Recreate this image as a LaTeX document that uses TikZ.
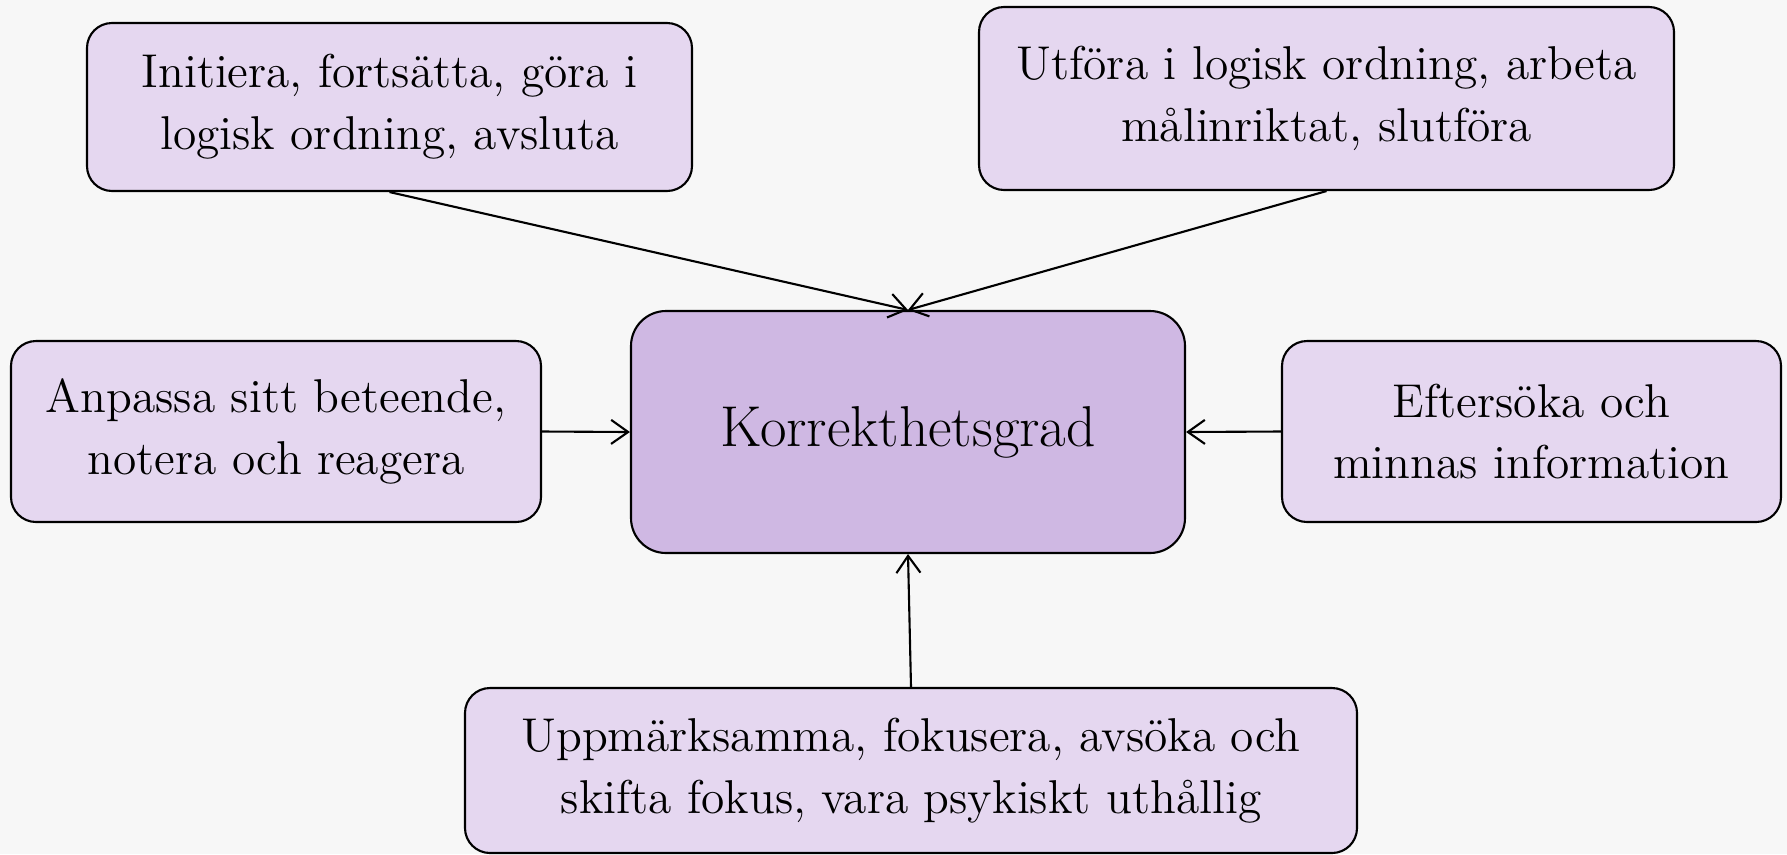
\documentclass[tikz,border=0pt]{standalone}
\usetikzlibrary{arrows.meta}
\definecolor{bgpaper}{HTML}{F7F7F7}
\definecolor{lilac}{HTML}{E5D7F0}
\definecolor{lilacdark}{HTML}{CFB8E3}
\begin{document}
\begin{tikzpicture}[
    facet/.style={draw=black, line width=0.6pt, fill=lilac, rounded corners=0.25cm,
      align=center, inner sep=0pt, font=\fontsize{13.5}{17.6}\selectfont},
    grade/.style={facet, fill=lilacdark, rounded corners=0.35cm, font=\fontsize{16.4}{20}\selectfont},
    feeds/.style={line width=0.6pt, -{Straight Barb[length=1.7mm,width=2.4mm]}}
  ]
   \fill[bgpaper] (0,0) rectangle (17.87,-8.54);
   \useasboundingbox (0,0) rectangle (17.87,-8.54);
   % centre
   \node[grade, minimum width=5.54cm, minimum height=2.42cm] (grad) at (9.08,-4.32) {Korrekthetsgrad};
   % the five around it
   \node[facet, minimum width=6.05cm, minimum height=1.68cm] (init) at (3.895,-1.07)
     {Initiera, fortsätta, göra i\\logisk ordning, avsluta};
   \node[facet, minimum width=6.95cm, minimum height=1.83cm] (utfora) at (13.265,-0.985)
     {Utföra i logisk ordning, arbeta\\målinriktat, slutföra};
   \node[facet, minimum width=5.30cm, minimum height=1.81cm] (anpassa) at (2.76,-4.315)
     {Anpassa sitt beteende,\\notera och reagera};
   \node[facet, minimum width=4.99cm, minimum height=1.81cm] (soka) at (15.315,-4.315)
     {Eftersöka och\\minnas information};
   \node[facet, minimum width=8.92cm, minimum height=1.65cm] (fokus) at (9.11,-7.705)
     {Uppmärksamma, fokusera, avsöka och\\skifta fokus, vara psykiskt uthållig};
   % arrows
   \draw[feeds] (init.south) -- (grad.north);
   \draw[feeds] (utfora.south) -- (grad.north);
   \draw[feeds] (anpassa.east) -- (grad.west);
   \draw[feeds] (soka.west) -- (grad.east);
   \draw[feeds] (fokus.north) -- (grad.south);
\end{tikzpicture}
\end{document}
